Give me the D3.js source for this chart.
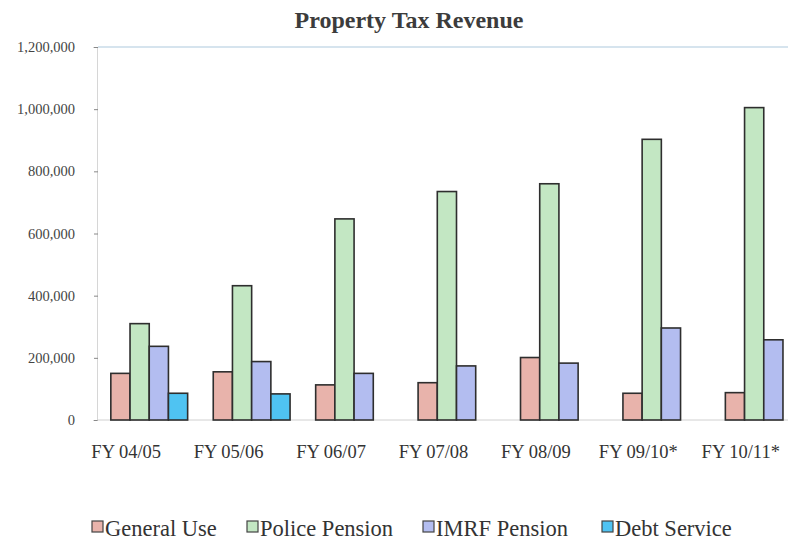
<!DOCTYPE html>
<html>
<head>
<meta charset="utf-8">
<script src="https://cdn.jsdelivr.net/npm/d3@7"></script>
<style>
  html, body { margin: 0; padding: 0; background: #ffffff; }
  svg { display: block; }
  text { font-family: "Liberation Serif", "DejaVu Serif", serif; }
</style>
</head>
<body>
<svg id="chart" width="788" height="542"></svg>
<script>
// Property tax revenue by fiscal year, split by fund
const categories = ["FY 04/05", "FY 05/06", "FY 06/07", "FY 07/08", "FY 08/09", "FY 09/10*", "FY 10/11*"];
const seriesNames = ["General Use", "Police Pension", "IMRF Pension", "Debt Service"];
const generalUse    = [150000, 155000, 113000, 120000, 201000,  86000,  88000];
const policePension = [310000, 432000, 647000, 735000, 760000, 903000, 1005000];
const imrfPension   = [237000, 188000, 150000, 174000, 183000, 296000, 258000];
const debtService   = [ 86000,  84000,      0,      0,      0,      0,      0];
const yTicks = [0, 200000, 400000, 600000, 800000, 1000000, 1200000];
const colors = ["#e8b3ab", "#c3e7c3", "#b3bdf0", "#4fc3f2"];

const seriesValues = [generalUse, policePension, imrfPension, debtService];

const svg = d3.select("#chart");

const x = d3.scaleBand()
  .domain(categories)
  .range([97, 816])
  .paddingInner(0.25)
  .paddingOuter(0.135);

const xs = d3.scaleBand()
  .domain(seriesNames)
  .range([0, x.bandwidth()])
  .padding(0);

const y = d3.scaleLinear()
  .domain([0, 1200000])
  .range([420, 47]);

// plot area top border
svg.append("line")
  .attr("x1", 98).attr("x2", 788)
  .attr("y1", y(1200000)).attr("y2", y(1200000))
  .attr("stroke", "#c9dbe9").attr("stroke-width", 1.5);

// y axis
const yAxis = d3.axisLeft(y)
  .tickValues(yTicks)
  .tickFormat(d3.format(","))
  .tickSize(4)
  .tickPadding(18);

const gy = svg.append("g")
  .attr("transform", "translate(97,0)")
  .call(yAxis);
gy.select(".domain").attr("stroke", "#d6d6d6").attr("stroke-width", 1);
gy.selectAll(".tick line").attr("stroke", "#888").attr("transform", "translate(1,0)");
gy.selectAll(".tick text")
  .attr("fill", "#444")
  .style("font-size", "14.5px")
  .style("font-family", "'Liberation Serif', serif");

// baseline
svg.append("line")
  .attr("x1", 97).attr("x2", 788)
  .attr("y1", y(0)).attr("y2", y(0))
  .attr("stroke", "#d0d0d0").attr("stroke-width", 1);

// bars
const groups = svg.append("g").selectAll("g")
  .data(categories)
  .join("g")
  .attr("transform", d => `translate(${x(d)},0)`);

groups.selectAll("rect")
  .data((d, i) => seriesNames.map((s, k) => ({ s, k, v: seriesValues[k][i] })).filter(e => e.v > 0))
  .join("rect")
  .attr("x", d => xs(d.s))
  .attr("width", xs.bandwidth())
  .attr("y", d => y(d.v))
  .attr("height", d => y(0) - y(d.v))
  .attr("fill", d => colors[d.k])
  .attr("stroke", "#2e2e2e")
  .attr("stroke-width", 1.6);

// category labels
svg.append("g").selectAll("text")
  .data(categories)
  .join("text")
  .attr("x", d => x(d) + x.bandwidth() / 2 - 23)
  .attr("y", 458)
  .attr("text-anchor", "middle")
  .attr("fill", "#333")
  .style("font-size", "18.5px")
  .text(d => d);

// title
svg.append("text")
  .attr("x", 409)
  .attr("y", 28)
  .attr("text-anchor", "middle")
  .attr("fill", "#3c3c3c")
  .style("font-size", "24px")
  .style("font-weight", "bold")
  .text("Property Tax Revenue");

// legend
const legendX = [92, 247, 423, 602];
const legend = svg.append("g").selectAll("g")
  .data(seriesNames)
  .join("g")
  .attr("transform", (d, i) => `translate(${legendX[i]},527)`);
legend.append("rect")
  .attr("x", 0).attr("y", -6)
  .attr("width", 11).attr("height", 11)
  .attr("fill", (d, i) => colors[i])
  .attr("stroke", "#444").attr("stroke-width", 1.2);
legend.append("text")
  .attr("x", 13)
  .attr("y", 9)
  .attr("fill", "#333")
  .style("font-size", "22.5px")
  .text(d => d);
</script>
</body>
</html>
